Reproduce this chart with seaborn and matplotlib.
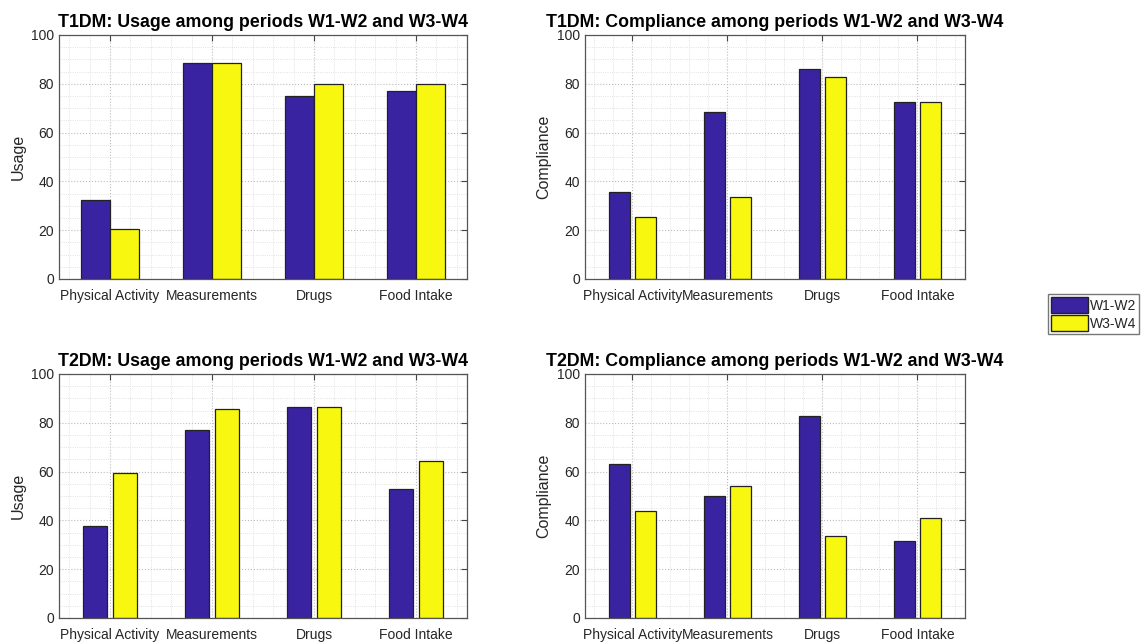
import matplotlib
matplotlib.use("Agg")
import matplotlib.pyplot as plt
from matplotlib.ticker import MultipleLocator
from matplotlib.patches import Patch
import seaborn as sns
import pandas as pd

categories = ["Physical Activity", "Measurements", "Drugs", "Food Intake"]
periods = ["W1-W2", "W3-W4"]

t1_usage_w12 = [32.4, 88.6, 75.1, 77.0]
t1_usage_w34 = [20.5, 88.6, 79.9, 80.0]
t1_comp_w12 = [35.5, 68.6, 85.9, 72.4]
t1_comp_w34 = [25.4, 33.6, 82.9, 72.7]
t2_usage_w12 = [37.7, 77.2, 86.6, 52.9]
t2_usage_w34 = [59.3, 85.8, 86.6, 64.2]
t2_comp_w12 = [63.1, 49.9, 82.8, 31.7]
t2_comp_w34 = [43.7, 54.1, 33.6, 40.8]

colors = ["#3a23a0", "#f7f70f"]

sns.set_style("white")
plt.rcParams["font.family"] = ["Liberation Sans", "DejaVu Sans"]


def long_frame(w12, w34):
    return pd.DataFrame({
        "category": categories * 2,
        "period": [periods[0]] * 4 + [periods[1]] * 4,
        "value": list(w12) + list(w34),
    })


def draw(ax, w12, w34, title, ylabel, width, gap):
    df = long_frame(w12, w34)
    sns.barplot(data=df, x="category", y="value", hue="period",
                palette=colors, width=width, gap=gap, ax=ax,
                edgecolor="#222222", linewidth=0.9, errorbar=None,
                legend=False, saturation=1)
    ax.set_xlim(-0.5, 3.5)
    ax.set_ylim(0, 100)
    ax.set_yticks([0, 20, 40, 60, 80, 100])
    ax.yaxis.set_minor_locator(MultipleLocator(5))
    ax.xaxis.set_minor_locator(MultipleLocator(0.2))
    ax.grid(True, which="major", color="#bdbdbd", linestyle=":", linewidth=0.8)
    ax.grid(True, which="minor", color="#d9d9d9", linestyle=":", linewidth=0.6)
    ax.set_axisbelow(True)
    ax.tick_params(which="major", direction="in", top=True, right=True,
                   length=4, labelsize=10, color="#444444",
                   labelcolor="#262626")
    ax.tick_params(axis="x", which="major", pad=7)
    ax.tick_params(which="minor", length=0)
    ax.set_xlabel("")
    ax.set_ylabel(ylabel, fontsize=11.5, color="#262626")
    ax.set_title(title, fontsize=12.8, fontweight="bold", pad=6, color="black")
    for s in ax.spines.values():
        s.set_color("#555555")
        s.set_linewidth(0.9)


fig = plt.figure(figsize=(11.41, 6.44), dpi=100)
ax1 = fig.add_axes([0.0517, 0.5668, 0.3576, 0.3789])
ax2 = fig.add_axes([0.5127, 0.5668, 0.3330, 0.3789])
ax3 = fig.add_axes([0.0517, 0.0404, 0.3576, 0.3789])
ax4 = fig.add_axes([0.5127, 0.0404, 0.3330, 0.3789])

draw(ax1, t1_usage_w12, t1_usage_w34,
     "T1DM: Usage among periods W1-W2 and W3-W4", "Usage", 0.57, 0)
draw(ax2, t1_comp_w12, t1_comp_w34,
     "T1DM: Compliance among periods W1-W2 and W3-W4", "Compliance", 0.56, 0.21)
draw(ax3, t2_usage_w12, t2_usage_w34,
     "T2DM: Usage among periods W1-W2 and W3-W4", "Usage", 0.58, 0.2)
draw(ax4, t2_comp_w12, t2_comp_w34,
     "T2DM: Compliance among periods W1-W2 and W3-W4", "Compliance", 0.56, 0.21)

handles = [Patch(facecolor=c, edgecolor="#222222", label=p) for c, p in zip(colors, periods)]
fig.legend(handles=handles, loc="upper left",
           bbox_to_anchor=(1048 / 1141, 1 - 294 / 644),
           fontsize=10, frameon=True, fancybox=False, edgecolor="#555555",
           handlelength=2.7, handleheight=1.45, handletextpad=0.1,
           borderpad=0.2, labelspacing=0.12, borderaxespad=0)

fig.savefig("out.png", dpi=100)
